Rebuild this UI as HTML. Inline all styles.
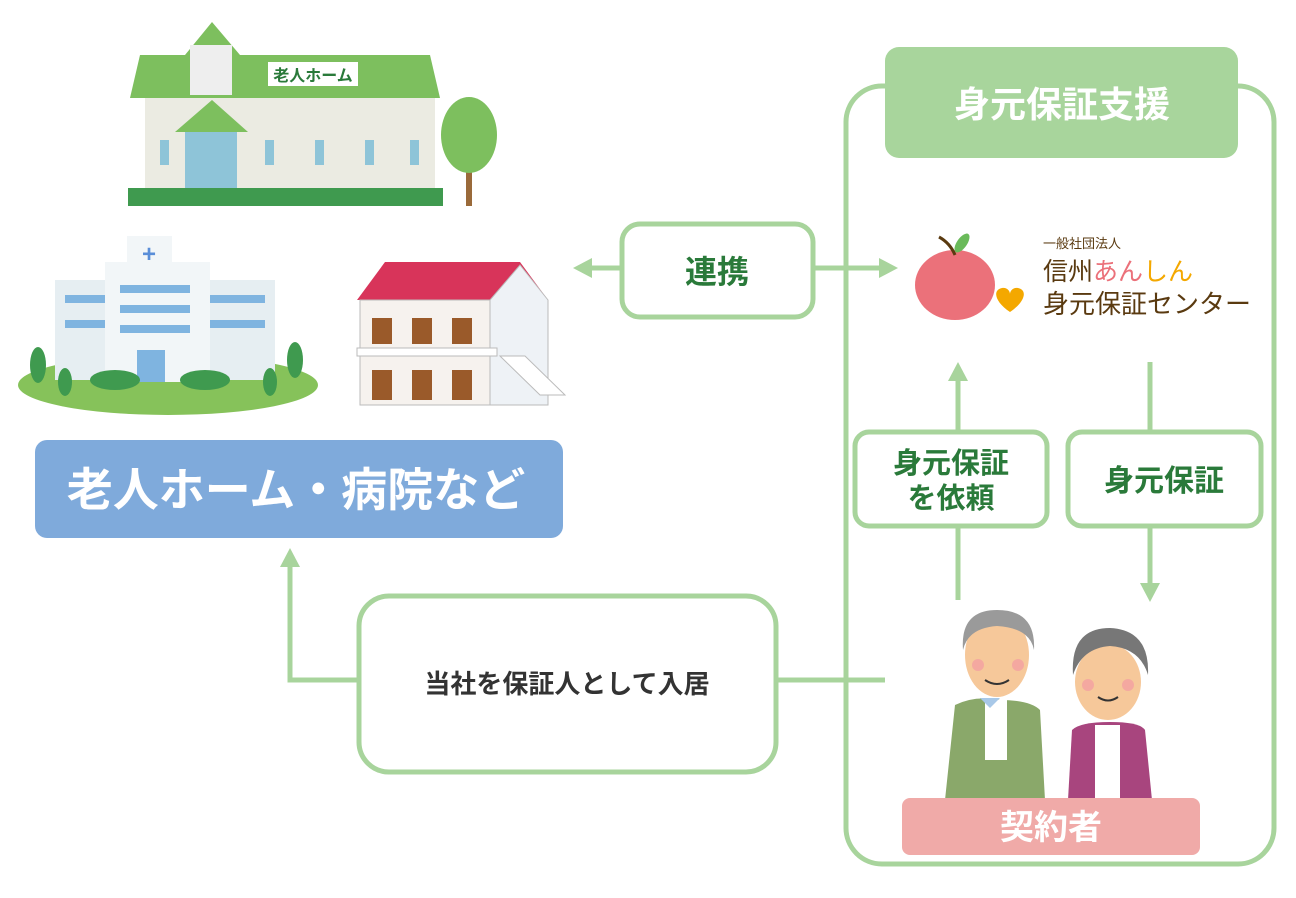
<!DOCTYPE html>
<html><head><meta charset="utf-8"><style>
html,body{margin:0;padding:0;background:#fff;width:1296px;height:898px;overflow:hidden}
svg text{font-family:"Liberation Sans","Noto Sans CJK JP",sans-serif}
</style></head><body>
<svg width="1296" height="898" viewBox="0 0 1296 898" xmlns="http://www.w3.org/2000/svg">
<g fill="none" stroke="#a8d49c" stroke-width="5">
<rect x="846" y="86" width="428" height="778" rx="36"/>
<line x1="590" y1="268" x2="620" y2="268"/>
<line x1="815" y1="268" x2="882" y2="268"/>
<line x1="958" y1="600" x2="958" y2="378"/>
<line x1="1150" y1="362" x2="1150" y2="585"/>
<polyline points="885,680 290,680 290,565"/>
</g>
<g fill="#a8d49c">
<polygon points="573,268 592,258 592,278"/>
<polygon points="898,268 879,258 879,278"/>
<polygon points="958,362 948,381 968,381"/>
<polygon points="1150,602 1140,583 1160,583"/>
<polygon points="290,548 280,567 300,567"/>
</g>
<rect x="885" y="47" width="353" height="111" rx="14" fill="#a8d59c"/>
<text x="1062" y="117" font-size="36" font-weight="bold" fill="#fff" text-anchor="middle">身元保証支援</text>
<rect x="622" y="224" width="191" height="93" rx="18" fill="#fff" stroke="#a8d49c" stroke-width="5"/>
<text x="717" y="283" font-size="32" font-weight="bold" fill="#2a7a3a" text-anchor="middle">連携</text>
<rect x="855" y="432" width="192" height="94" rx="14" fill="#fff" stroke="#a8d49c" stroke-width="5"/>
<text x="951" y="473" font-size="29" font-weight="bold" fill="#2a7a3a" text-anchor="middle">身元保証</text>
<text x="951" y="508" font-size="29" font-weight="bold" fill="#2a7a3a" text-anchor="middle">を依頼</text>
<rect x="1068" y="432" width="193" height="94" rx="14" fill="#fff" stroke="#a8d49c" stroke-width="5"/>
<text x="1164" y="491" font-size="30" font-weight="bold" fill="#2a7a3a" text-anchor="middle">身元保証</text>
<rect x="359" y="596" width="417" height="176" rx="30" fill="#fff" stroke="#a8d49c" stroke-width="5"/>
<text x="567" y="693" font-size="26" font-weight="bold" fill="#333" text-anchor="middle">当社を保証人として入居</text>
<rect x="35" y="440" width="528" height="98" rx="12" fill="#7faadb"/>
<text x="296" y="506" font-size="46" font-weight="bold" fill="#fff" text-anchor="middle">老人ホーム・病院など</text>
<!-- logo -->
<ellipse cx="955" cy="285" rx="40" ry="35" fill="#eb717a"/>
<path d="M955 255 q-5 -12 -16 -18" stroke="#5a3a10" stroke-width="3" fill="none"/>
<ellipse cx="962" cy="243" rx="5" ry="11" fill="#6aba5a" transform="rotate(35 962 243)"/>
<path d="M1010 312 c-15 -10 -18 -22 -8 -24 c5 -1 8 3 8 6 c0 -3 3 -7 8 -6 c10 2 7 14 -8 24z" fill="#f4a800"/>
<text x="1043" y="248" font-size="13" fill="#5a3a10">一般社団法人</text>
<text x="1043" y="280" font-size="25" fill="#5a3a10">信州<tspan fill="#eb717a">あん</tspan><tspan fill="#f4a800">しん</tspan></text>
<text x="1043" y="313" font-size="26" fill="#5a3a10">身元保証センター</text>
<!-- nursing home -->
<g>
<polygon points="140,55 430,55 440,98 130,98" fill="#7dbf5e"/>
<polygon points="185,55 212,22 240,55" fill="#7dbf5e"/>
<rect x="190" y="45" width="42" height="50" fill="#eee"/>
<rect x="268" y="62" width="90" height="24" fill="#fff"/>
<text x="313" y="81" font-size="16" font-weight="bold" fill="#2a7a3a" text-anchor="middle">老人ホーム</text>
<rect x="145" y="98" width="290" height="108" fill="#ebebe2"/>
<polygon points="175,132 212,100 248,132" fill="#7dbf5e"/>
<rect x="185" y="132" width="52" height="74" fill="#8ec4d8"/>
<g fill="#8ec4d8"><rect x="160" y="140" width="9" height="25"/><rect x="265" y="140" width="9" height="25"/><rect x="315" y="140" width="9" height="25"/><rect x="365" y="140" width="9" height="25"/><rect x="410" y="140" width="9" height="25"/></g>
<rect x="128" y="188" width="315" height="18" fill="#3f9a4f"/>
<rect x="466" y="140" width="6" height="66" fill="#9a6a3a"/>
<ellipse cx="469" cy="135" rx="28" ry="38" fill="#7dbf5e"/>
</g>
<!-- hospital -->
<g>
<ellipse cx="168" cy="385" rx="150" ry="30" fill="#86c25a"/>
<rect x="55" y="280" width="60" height="100" fill="#e6eef2"/>
<rect x="200" y="280" width="75" height="100" fill="#e6eef2"/>
<rect x="105" y="262" width="105" height="120" fill="#f2f6f8"/>
<rect x="127" y="236" width="45" height="30" fill="#f2f6f8"/>
<text x="149" y="262" font-size="24" font-weight="bold" fill="#5a8ed8" text-anchor="middle">+</text>
<g fill="#7fb4e0"><rect x="120" y="285" width="70" height="8"/><rect x="120" y="305" width="70" height="8"/><rect x="120" y="325" width="70" height="8"/><rect x="65" y="295" width="40" height="8"/><rect x="65" y="320" width="40" height="8"/><rect x="210" y="295" width="55" height="8"/><rect x="210" y="320" width="55" height="8"/><rect x="137" y="350" width="28" height="32"/></g>
<ellipse cx="115" cy="380" rx="25" ry="10" fill="#3f9a4f"/><ellipse cx="205" cy="380" rx="25" ry="10" fill="#3f9a4f"/>
<ellipse cx="38" cy="365" rx="8" ry="18" fill="#3f9a4f"/><ellipse cx="295" cy="360" rx="8" ry="18" fill="#3f9a4f"/><ellipse cx="270" cy="382" rx="7" ry="14" fill="#3f9a4f"/><ellipse cx="65" cy="382" rx="7" ry="14" fill="#3f9a4f"/>
</g>
<!-- house -->
<g>
<polygon points="357,300 385,262 520,262 548,300" fill="#d8345a"/>
<rect x="360" y="300" width="130" height="105" fill="#f6f2ee" stroke="#bbb"/>
<polygon points="490,300 520,265 548,300 548,405 490,405" fill="#eef2f6" stroke="#bbb"/>
<g fill="#9a5a2a"><rect x="372" y="318" width="20" height="26"/><rect x="412" y="318" width="20" height="26"/><rect x="452" y="318" width="20" height="26"/><rect x="372" y="370" width="20" height="30"/><rect x="412" y="370" width="20" height="30"/><rect x="452" y="370" width="20" height="30"/></g>
<rect x="357" y="348" width="140" height="8" fill="#fff" stroke="#bbb"/>
<polygon points="500,356 540,395 565,395 525,356" fill="#fff" stroke="#bbb"/>
</g>
<!-- elders -->
<g>
<path d="M945 800 L955 705 Q975 695 1000 700 Q1030 700 1040 710 L1045 800z" fill="#8aa86a"/>
<rect x="985" y="700" width="22" height="60" fill="#fff"/>
<path d="M980 698 l10 10 l10 -10z" fill="#a8c8e8"/>
<ellipse cx="997" cy="655" rx="32" ry="42" fill="#f6c89a"/>
<path d="M963 650 Q960 610 997 610 Q1036 610 1034 650 Q1030 628 997 626 Q968 628 963 650z" fill="#9a9a9a"/>
<path d="M985 680 q12 8 24 0" stroke="#333" stroke-width="2" fill="none"/>
<circle cx="978" cy="665" r="6" fill="#f4a8a0"/><circle cx="1018" cy="665" r="6" fill="#f4a8a0"/>
<path d="M1068 800 L1072 730 Q1080 722 1110 722 Q1140 722 1145 730 L1152 800z" fill="#a8457e"/>
<rect x="1095" y="725" width="25" height="75" fill="#fff"/>
<ellipse cx="1108" cy="682" rx="33" ry="38" fill="#f6c89a"/>
<path d="M1073 675 Q1070 628 1110 628 Q1150 630 1148 675 Q1140 648 1110 646 Q1082 648 1073 675z" fill="#777"/>
<path d="M1098 697 q10 7 20 0" stroke="#333" stroke-width="2" fill="none"/>
<circle cx="1088" cy="685" r="6" fill="#f4a8a0"/><circle cx="1128" cy="685" r="6" fill="#f4a8a0"/>
</g>
<rect x="902" y="798" width="298" height="57" rx="8" fill="#f0aaa8"/>
<text x="1051" y="839" font-size="34" font-weight="bold" fill="#fff" text-anchor="middle">契約者</text>
</svg>
</body></html>
